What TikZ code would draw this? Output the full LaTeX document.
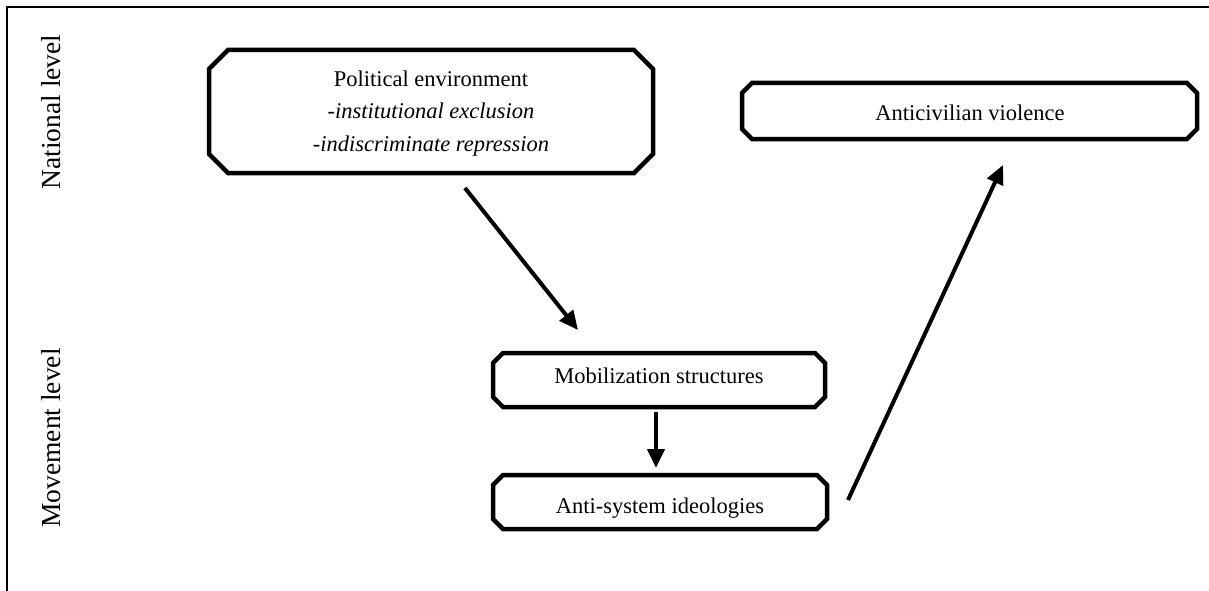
\documentclass[tikz,border=0pt]{standalone}
\usepackage{fontspec}
\setmainfont{Liberation Serif}
\usetikzlibrary{arrows.meta}

% chamfered frame: centre x, centre y, half width, half height, chamfer
\newcommand{\chamframe}[5]{%
  \draw[boxline] (#1-#3+#5,#2-#4) -- (#1+#3-#5,#2-#4) -- (#1+#3,#2-#4+#5)
    -- (#1+#3,#2+#4-#5) -- (#1+#3-#5,#2+#4) -- (#1-#3+#5,#2+#4)
    -- (#1-#3,#2+#4-#5) -- (#1-#3,#2-#4+#5) -- cycle;}

\tikzset{
  boxline/.style={line width=4.5pt,line join=miter},
  boxtext/.style={inner sep=0pt,align=center,font=\fontsize{22.5}{32.5}\selectfont},
  flow/.style={line width=4pt,-{Triangle[length=19pt,width=17pt]}},
  levelname/.style={rotate=90,anchor=base,font=\fontsize{27.5}{30}\selectfont}
}

\begin{document}
\begin{tikzpicture}[x=1pt,y=-1pt]
\useasboundingbox (0,0) rectangle (1209,591);
% outer frame
\draw[line width=2pt] (7,591) -- (7,7) -- (1209,7);

% levels
\node[levelname] (national) at (60,112) {National level};
\node[levelname] (movement) at (60,438) {Movement level};

% boxes
\chamframe{431}{111.5}{222}{61.5}{19}
\node[boxtext] (polenv) at (431,113.5)
  {Political environment\\\textit{-institutional exclusion}\\\textit{-indiscriminate repression}};
\chamframe{969.5}{111}{227.5}{28}{10}
\node[boxtext] (violence) at (970,112.5) {Anticivilian violence};
\chamframe{659}{380}{166}{27}{10}
\node[boxtext] (mobil) at (659,375.5) {Mobilization structures};
\chamframe{660}{502}{167}{27}{10}
\node[boxtext] (ideol) at (660,508) {Anti-system ideologies};

% arrow ends
\coordinate (polout) at (465,188);
\coordinate (mobin) at (578,330);
\coordinate (mobout) at (656,412);
\coordinate (ideolin) at (656,468);
\coordinate (ideolout) at (848,500);
\coordinate (violin) at (1003,165);

\draw[flow] (polout) -- (mobin);
\draw[flow] (mobout) -- (ideolin);
\draw[flow] (ideolout) -- (violin);
\end{tikzpicture}
\end{document}
